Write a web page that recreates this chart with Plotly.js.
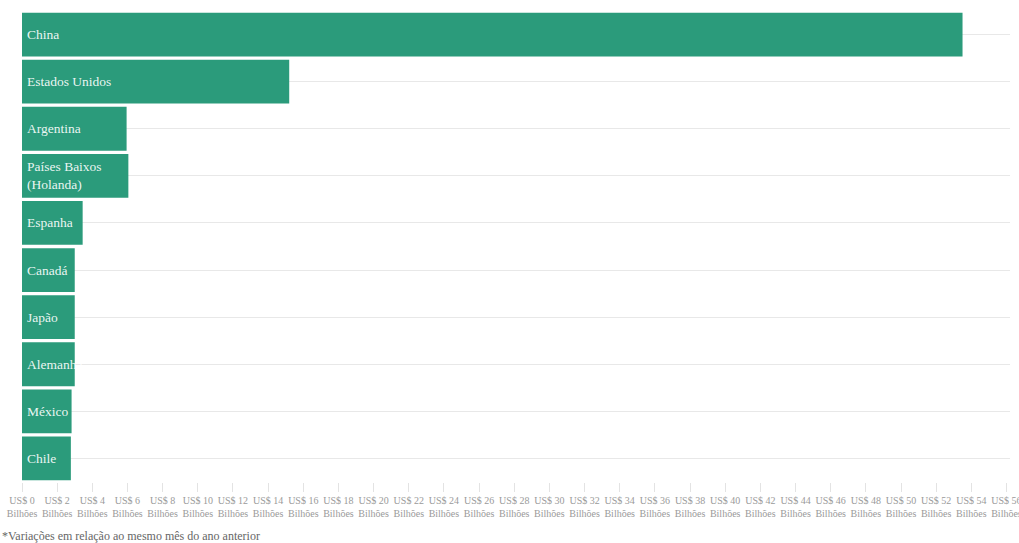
<!DOCTYPE html>
<html>
<head>
<meta charset="utf-8">
<script src="https://cdn.plot.ly/plotly-3.0.1.min.js"></script>
<style>
  html, body { margin: 0; padding: 0; background: #fff; }
  #chart { width: 1019px; height: 543px; }
</style>
</head>
<body>
<div id="chart"></div>
<script>
const categories = ["China", "Estados Unidos", "Argentina", "Países Baixos (Holanda)", "Espanha", "Canadá", "Japão", "Alemanha", "México", "Chile"];
const barLabels = ["China", "Estados Unidos", "Argentina", "Países Baixos<br>(Holanda)", "Espanha", "Canadá", "Japão", "Alemanha", "México", "Chile"];
const values = [53.5, 15.2, 5.95, 6.05, 3.45, 3.0, 3.0, 3.0, 2.82, 2.78];
const tickValues = [];
const tickLabels = [];
for (let v = 0; v <= 56; v += 2) { tickValues.push(v); tickLabels.push("US$ " + v + "<br>Bilhões"); }
const footnote = "*Variações em relação ao mesmo mês do ano anterior";

const serif = "'Liberation Serif', 'Times New Roman', serif";

const trace = {
  type: "bar",
  orientation: "h",
  y: categories,
  x: values,
  marker: { color: "#2b9b7b", line: { width: 0 } },
  hoverinfo: "none"
};

const labelAnnotations = categories.map((c, i) => ({
  xref: "x", yref: "y",
  x: 0, y: c,
  xanchor: "left", yanchor: "middle",
  xshift: 3,
  align: "left",
  showarrow: false,
  text: barLabels[i],
  font: { family: serif, size: 13.5, color: "rgba(255,255,255,0.92)" }
}));

const layout = {
  width: 1019,
  height: 543,
  margin: { l: 22, r: 9, t: 11, b: 61 },
  paper_bgcolor: "#ffffff",
  plot_bgcolor: "#ffffff",
  bargap: 0.07,
  showlegend: false,
  font: { family: serif },
  xaxis: {
    range: [0, 56.2],
    tickvals: tickValues,
    ticktext: tickLabels,
    tickangle: 0,
    ticklabeloverflow: "allow",
    ticks: "outside",
    ticklen: 9,
    tickcolor: "#e3e3e3",
    tickfont: { family: serif, size: 10, color: "#9a9a9a" },
    showgrid: false,
    zeroline: false,
    showline: false,
    fixedrange: true
  },
  yaxis: {
    autorange: "reversed",
    showticklabels: false,
    showgrid: true,
    gridcolor: "#e8e8e8",
    gridwidth: 1,
    zeroline: false,
    showline: false,
    ticks: "",
    fixedrange: true
  },
  annotations: labelAnnotations.concat([{
    xref: "paper", yref: "paper",
    x: -22 / 988, y: -54 / 471,
    xanchor: "left", yanchor: "middle",
    showarrow: false,
    text: footnote,
    font: { family: serif, size: 12, color: "#666666" }
  }])
};

Plotly.newPlot("chart", [trace], layout, { displayModeBar: false, staticPlot: true });
</script>
</body>
</html>
